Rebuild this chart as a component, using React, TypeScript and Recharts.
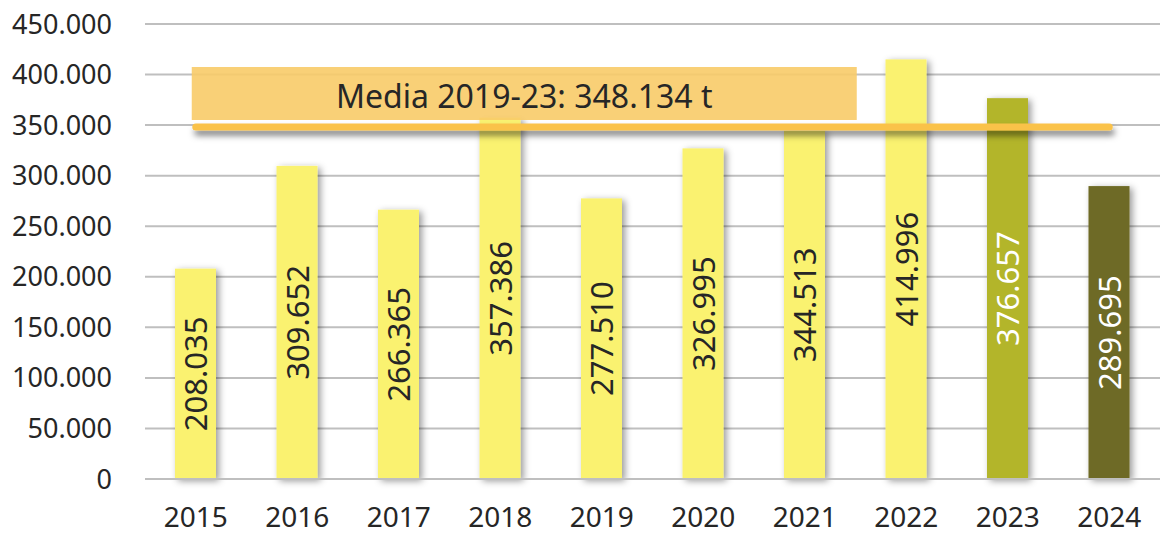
import { BarChart, Bar, XAxis, YAxis, CartesianGrid, ReferenceLine, LabelList, Cell } from 'recharts'

const years = ['2015', '2016', '2017', '2018', '2019', '2020', '2021', '2022', '2023', '2024']
const tonnes = [208035, 309652, 266365, 357386, 277510, 326995, 344513, 414996, 376657, 289695]
const barColors = [
  '#FAF270', '#FAF270', '#FAF270', '#FAF270', '#FAF270',
  '#FAF270', '#FAF270', '#FAF270', '#B3B52A', '#6E6B26',
]
const labelColors = [
  '#262626', '#262626', '#262626', '#262626', '#262626',
  '#262626', '#262626', '#262626', '#FFFFFF', '#FFFFFF',
]
const yTicks = [0, 50000, 100000, 150000, 200000, 250000, 300000, 350000, 400000, 450000]
const avgYears = ['2019', '2020', '2021', '2022', '2023']

const data = years.map((year, i) => ({ year, value: tonnes[i] }))

const avgValues = data.filter((d) => avgYears.includes(d.year)).map((d) => d.value)
const avg = avgValues.reduce((a, b) => a + b, 0) / avgValues.length

const fmt = (v: number) => Math.round(v).toString().replace(/\B(?=(\d{3})+(?!\d))/g, '.')

const FONT = '"Noto Sans", sans-serif'
const TEXT = '#262626'

function ShadowBar(props: any) {
  const { x, y, width, height, fill } = props
  if (!height) return null
  return <rect x={x} y={y} width={width} height={height} fill={fill} filter="url(#barShadow)" />
}

function ValueLabel(props: any) {
  const { x, y, width, height, value, index } = props
  const cx = x + width / 2
  const cy = y + height / 2
  return (
    <text
      x={cx}
      y={cy}
      transform={`rotate(-90 ${cx} ${cy})`}
      textAnchor="middle"
      dominantBaseline="central"
      fontSize={31}
      fontFamily={FONT}
      fill={labelColors[index]}
    >
      {fmt(value)}
    </text>
  )
}

// box above the average line
function AvgLabel({ viewBox }: any) {
  if (!viewBox) return null
  const bx = viewBox.x - 4
  const by = viewBox.y - 60
  const bw = 665
  const bh = 53
  return (
    <g>
      <rect x={bx} y={by} width={bw} height={bh} fill="#F8CB68" fillOpacity={0.9} />
      <text
        x={bx + bw / 2}
        y={by + bh / 2 + 2}
        textAnchor="middle"
        dominantBaseline="central"
        fontSize={32}
        fontFamily={FONT}
        fill={TEXT}
      >
        {`Media 2019-23: ${fmt(avg)} t`}
      </text>
    </g>
  )
}

function AvgLine(props: any) {
  const { x1, y1, x2, y2 } = props
  return (
    <line
      x1={x1}
      y1={y1}
      x2={x2}
      y2={y2}
      stroke="#FAC24A"
      strokeWidth={7}
      strokeLinecap="round"
      filter="url(#lineShadow)"
    />
  )
}

export default function App() {
  return (
    <div style={{ position: 'absolute', left: 0, top: 0, background: '#fff' }}>
      <BarChart
        width={1160}
        height={534}
        data={data}
        margin={{ top: 24, right: 0, left: 0, bottom: 0 }}
        style={{ fontFamily: FONT }}
      >
        <defs>
          <filter id="barShadow" x="-30%" y="-10%" width="160%" height="130%">
            <feDropShadow dx="3" dy="2" stdDeviation="3.5" floodColor="#000" floodOpacity="0.4" />
          </filter>
          <filter id="lineShadow" filterUnits="userSpaceOnUse" x="0" y="0" width="1160" height="534">
            <feDropShadow dx="2" dy="5" stdDeviation="3" floodColor="#000" floodOpacity="0.5" />
          </filter>
        </defs>
        <CartesianGrid vertical={false} stroke="#BFBFBF" strokeWidth={2} />
        <XAxis
          dataKey="year"
          height={55}
          axisLine={{ stroke: '#BFBFBF', strokeWidth: 2 }}
          tickLine={false}
          tickSize={0}
          tickMargin={28}
          tick={{ fontSize: 28, fill: TEXT, fontFamily: FONT }}
          interval={0}
        />
        <YAxis
          width={145}
          domain={[0, 450000]}
          ticks={yTicks}
          axisLine={false}
          tickLine={false}
          tickSize={0}
          tickMargin={33}
          tickFormatter={fmt}
          tick={{ fontSize: 27, fill: TEXT, fontFamily: FONT }}
        />
        <Bar dataKey="value" barSize={41} shape={ShadowBar} isAnimationActive={false}>
          {data.map((d, i) => (
            <Cell key={d.year} fill={barColors[i]} />
          ))}
          <LabelList dataKey="value" content={ValueLabel} />
        </Bar>
        <ReferenceLine
          segment={[
            { x: years[0], y: avg },
            { x: years[years.length - 1], y: avg },
          ]}
          shape={AvgLine}
          label={AvgLabel}
        />
      </BarChart>
    </div>
  )
}
